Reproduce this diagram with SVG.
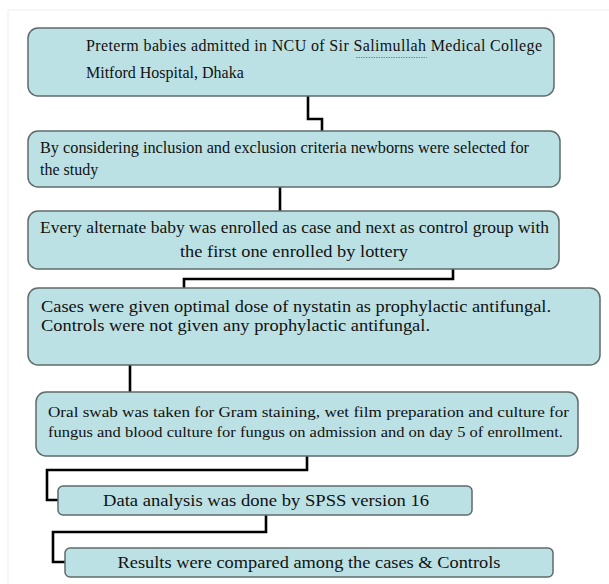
<svg xmlns="http://www.w3.org/2000/svg" width="609" height="584" viewBox="0 0 609 584">
<style>
.box{fill:#bce1e4;stroke:#5f6b6b;stroke-width:1.5}
text{font-family:'Liberation Serif','Times New Roman','DejaVu Serif',serif;fill:#111;font-size:16px}
.c{fill:none;stroke:#000;stroke-width:2.6}
</style>
<rect x="0" y="0" width="609" height="584" fill="#fff"/>
<path d="M8 584V10H609" fill="none" stroke="#ececec" stroke-width="1"/>
<g id="connectors">
<path class="c" d="M308 96V119H322V131"/>
<path class="c" d="M280 187V211"/>
<path class="c" d="M453 269V279H184V288"/>
<path class="c" d="M130 365V392"/>
<path class="c" d="M307 456V470H47V500H58"/>
<path class="c" d="M266 515V532H53V562H65"/>
</g>
<g id="n1">
<rect class="box" x="28" y="28" width="526" height="68" rx="10"/>
<text x="86" y="51" textLength="456" lengthAdjust="spacing">Preterm babies admitted in NCU of Sir Salimullah Medical College</text>
<text x="86" y="78">Mitford Hospital, Dhaka</text>
<path d="M356 57.5h71" stroke="#e05050" stroke-width="0.9" stroke-dasharray="1.5,1" fill="none"/>
</g>
<g id="n2">
<rect class="box" x="28" y="131" width="532" height="56" rx="10"/>
<text x="40" y="153" textLength="489" lengthAdjust="spacingAndGlyphs">By considering inclusion and exclusion criteria newborns were selected for</text>
<text x="40" y="175">the study</text>
</g>
<g id="n3">
<rect class="box" x="28" y="211" width="531" height="58" rx="10"/>
<text x="40" y="233" textLength="509" lengthAdjust="spacingAndGlyphs">Every alternate baby was enrolled as case and next as control group with</text>
<text x="294" y="257" text-anchor="middle" style="font-size:17px" textLength="228" lengthAdjust="spacingAndGlyphs">the first one enrolled by lottery</text>
</g>
<g id="n4">
<rect class="box" x="28" y="288" width="572" height="77" rx="10"/>
<text x="41" y="312" textLength="510" lengthAdjust="spacingAndGlyphs">Cases were given optimal dose of nystatin as prophylactic antifungal.</text>
<text x="41" y="331" textLength="389" lengthAdjust="spacingAndGlyphs">Controls were not given any prophylactic antifungal.</text>
</g>
<g id="n5">
<rect class="box" x="36" y="392" width="542" height="64" rx="10"/>
<text x="48" y="417" style="font-size:15px" textLength="521" lengthAdjust="spacingAndGlyphs">Oral swab was taken for Gram staining, wet film preparation and culture for</text>
<text x="48" y="437" style="font-size:15px" textLength="515" lengthAdjust="spacingAndGlyphs">fungus and blood culture for fungus on admission and on day 5 of enrollment.</text>
</g>
<g id="n6">
<rect class="box" x="58" y="486" width="414" height="29" rx="5"/>
<text x="266" y="506" text-anchor="middle" style="font-size:17px" textLength="326" lengthAdjust="spacingAndGlyphs">Data analysis was done by SPSS version 16</text>
</g>
<g id="n7">
<rect class="box" x="65" y="548" width="488" height="29" rx="5"/>
<text x="309" y="568" text-anchor="middle" style="font-size:17px" textLength="383" lengthAdjust="spacingAndGlyphs">Results were compared among the cases &amp; Controls</text>
</g>
</svg>
